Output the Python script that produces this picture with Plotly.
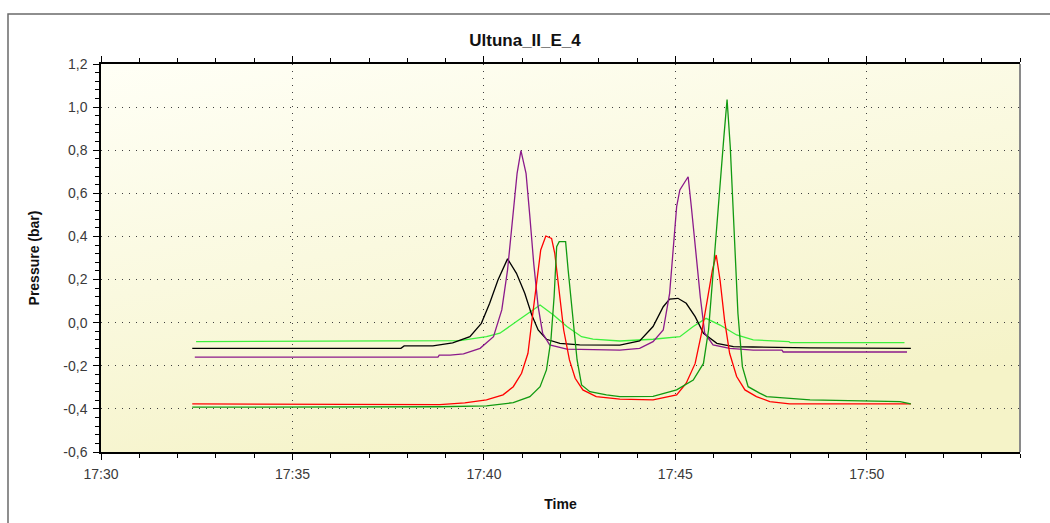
import base64
import plotly.graph_objects as go

DAY = "2014-05-20"

# ---- data (time, pressure in bar) ----
black_t = ["17:32:23", "17:37:50", "17:37:55", "17:38:40", "17:39:11", "17:39:38", "17:39:56",
           "17:40:09", "17:40:22", "17:40:37", "17:40:51", "17:41:04", "17:41:15", "17:41:25",
           "17:41:38", "17:41:59", "17:42:30", "17:43:33", "17:44:04", "17:44:25", "17:44:41",
           "17:44:51", "17:45:04", "17:45:17", "17:45:31", "17:45:44", "17:46:05", "17:46:31",
           "17:47:01", "17:48:30", "17:51:09"]
black_v = [-0.119, -0.119, -0.108, -0.108, -0.094, -0.065, -0.003,
           0.090, 0.198, 0.296, 0.229, 0.136, 0.036, -0.034,
           -0.077, -0.096, -0.103, -0.104, -0.085, -0.018, 0.074,
           0.109, 0.113, 0.090, 0.028, -0.049, -0.096, -0.111,
           -0.113, -0.117, -0.119]

purple_t = ["17:32:27", "17:38:48", "17:38:50", "17:39:07", "17:39:28", "17:39:54", "17:40:15",
            "17:40:28", "17:40:37", "17:40:45", "17:40:52", "17:40:58", "17:41:06", "17:41:12",
            "17:41:18", "17:41:25", "17:41:32", "17:41:43", "17:42:10", "17:43:33", "17:44:04",
            "17:44:25", "17:44:41", "17:44:51", "17:44:57", "17:45:02", "17:45:07", "17:45:15",
            "17:45:20", "17:45:25", "17:45:32", "17:45:39", "17:45:46", "17:45:59", "17:46:25",
            "17:47:02", "17:47:47", "17:47:49", "17:51:03"]
purple_v = [-0.160, -0.160, -0.151, -0.151, -0.145, -0.119, -0.065,
            0.059, 0.244, 0.476, 0.693, 0.798, 0.693, 0.492,
            0.276, 0.074, -0.049, -0.103, -0.123, -0.127, -0.119,
            -0.088, -0.034, 0.136, 0.353, 0.538, 0.616, 0.654,
            0.677, 0.538, 0.322, 0.121, -0.049, -0.103, -0.119,
            -0.127, -0.127, -0.136, -0.136]

lime_t = ["17:32:29", "17:39:22", "17:40:04", "17:40:25", "17:40:51", "17:41:12", "17:41:28",
          "17:41:49", "17:42:10", "17:42:33", "17:42:51", "17:43:33", "17:44:25", "17:45:07",
          "17:45:28", "17:45:48", "17:46:10", "17:46:36", "17:47:02", "17:47:58", "17:48:00",
          "17:50:59"]
lime_v = [-0.088, -0.083, -0.065, -0.049, 0.005, 0.051, 0.082,
          0.036, -0.018, -0.065, -0.076, -0.085, -0.077, -0.065,
          -0.018, 0.020, -0.011, -0.057, -0.080, -0.088, -0.093,
          -0.093]

red_t = ["17:32:23", "17:38:51", "17:39:30", "17:40:04", "17:40:30", "17:40:46", "17:40:59",
         "17:41:09", "17:41:16", "17:41:23", "17:41:29", "17:41:37", "17:41:46", "17:41:51",
         "17:41:58", "17:42:05", "17:42:14", "17:42:23", "17:42:35", "17:42:56", "17:43:33",
         "17:44:25", "17:45:02", "17:45:17", "17:45:31", "17:45:41", "17:45:50", "17:45:58",
         "17:46:04", "17:46:10", "17:46:17", "17:46:25", "17:46:36", "17:46:49", "17:47:07",
         "17:47:28", "17:47:59", "17:51:09"]
red_v = [-0.377, -0.380, -0.372, -0.358, -0.335, -0.297, -0.235,
         -0.142, 0.028, 0.198, 0.337, 0.402, 0.391, 0.322,
         0.152, -0.034, -0.173, -0.258, -0.312, -0.343, -0.355,
         -0.358, -0.335, -0.281, -0.189, -0.049, 0.105, 0.244,
         0.314, 0.198, 0.013, -0.142, -0.250, -0.312, -0.343,
         -0.366, -0.377, -0.377]

green_t = ["17:32:23", "17:38:51", "17:40:04", "17:40:46", "17:41:12", "17:41:28", "17:41:38",
           "17:41:45", "17:41:50", "17:41:54", "17:41:58", "17:42:08", "17:42:12", "17:42:19",
           "17:42:26", "17:42:33", "17:42:46", "17:43:12", "17:43:33", "17:44:25", "17:45:02",
           "17:45:28", "17:45:44", "17:45:52", "17:45:58", "17:46:05", "17:46:11", "17:46:16",
           "17:46:21", "17:46:26", "17:46:32", "17:46:38", "17:46:45", "17:46:54", "17:47:12",
           "17:47:23", "17:48:31", "17:50:52", "17:51:09"]
green_v = [-0.392, -0.390, -0.386, -0.371, -0.343, -0.297, -0.219,
           -0.080, 0.121, 0.353, 0.376, 0.376, 0.244, 0.028,
           -0.173, -0.289, -0.320, -0.335, -0.343, -0.342, -0.312,
           -0.266, -0.189, -0.034, 0.198, 0.444, 0.676, 0.862,
           1.035, 0.816, 0.430, 0.044, -0.204, -0.297, -0.327,
           -0.343, -0.358, -0.366, -0.377]

y_tick_vals = [-0.6, -0.4, -0.2, 0.0, 0.2, 0.4, 0.6, 0.8, 1.0, 1.2]
y_tick_text = ["-0,6", "-0,4", "-0,2", "0,0", "0,2", "0,4", "0,6", "0,8", "1,0", "1,2"]
x_start, x_end = "17:30:00", "17:54:00"

series = [
    ("lime", lime_t, lime_v, "#3CF03C"),
    ("black", black_t, black_v, "#000000"),
    ("purple", purple_t, purple_v, "#8B1A8B"),
    ("red", red_t, red_v, "#FF0000"),
    ("green", green_t, green_v, "#119A11"),
]

FONT = "Liberation Sans, Arial, sans-serif"

fig = go.Figure()
for name, ts, vs, col in series:
    fig.add_trace(go.Scatter(
        x=[f"{DAY} {t}" for t in ts], y=vs, mode="lines", name=name,
        line=dict(color=col, width=1.3), showlegend=False, hoverinfo="skip",
    ))

# background gradient for the plot area
svg = ('<svg xmlns="http://www.w3.org/2000/svg" width="100" height="100" preserveAspectRatio="none">'
       '<defs><linearGradient id="g" x1="0" y1="0" x2="0.45" y2="1">'
       '<stop offset="0" stop-color="#FFFFF6"/><stop offset="1" stop-color="#F5F3C8"/>'
       '</linearGradient></defs><rect width="100" height="100" fill="url(#g)"/></svg>')
src = "data:image/svg+xml;base64," + base64.b64encode(svg.encode()).decode()

fig.update_layout(
    width=1050, height=523,
    margin=dict(l=101, r=30, t=64, b=71),
    paper_bgcolor="white", plot_bgcolor="rgba(0,0,0,0)",
    font=dict(family=FONT, size=14, color="#3a3a3a"),
    title=dict(text="<b>Ultuna_II_E_4</b>", x=0.5, xanchor="center", y=1 - 40 / 523,
               yanchor="middle", font=dict(family=FONT, size=17, color="#111111")),
    images=[dict(source=src, xref="paper", yref="paper", x=0, y=1, sizex=1, sizey=1,
                 sizing="stretch", layer="below", xanchor="left", yanchor="top")],
    shapes=[
        dict(type="rect", xref="paper", yref="paper", x0=-0.1012, x1=1.2, y0=-0.4, y1=1.1289,
             line=dict(color="#6a6a6a", width=1.5)),
        dict(type="line", xref="paper", yref="paper", x0=1, x1=1, y0=0, y1=1,
             line=dict(color="#8a8a8a", width=2)),
    ],
)

fig.update_xaxes(
    type="date", range=[f"{DAY} {x_start}", f"{DAY} {x_end}"],
    dtick=300000, tick0=f"{DAY} 17:30:00", tickformat="%H:%M",
    ticks="outside", ticklen=6, tickcolor="#000", tickwidth=1, ticklabelstandoff=2,
    minor=dict(dtick=60000, ticks="outside", ticklen=4, tickcolor="#000", showgrid=False),
    showline=True, linecolor="#000", linewidth=1.5, mirror="ticks",
    showgrid=True, gridcolor="#404040", gridwidth=1, griddash="1px,6px",
    zeroline=False,
    title=dict(text="<b>Time</b>", font=dict(family=FONT, size=14, color="#111111"), standoff=19),
    tickfont=dict(family=FONT, size=14, color="#3a3a3a"),
)
fig.update_yaxes(
    range=[-0.6, 1.2], tickvals=y_tick_vals, ticktext=y_tick_text,
    ticks="outside", ticklen=6, tickcolor="#000", tickwidth=1, ticklabelstandoff=3,
    minor=dict(dtick=0.04, tick0=-0.6, ticks="outside", ticklen=4, tickcolor="#000", showgrid=False),
    showline=True, linecolor="#000", linewidth=1.5, mirror=False,
    showgrid=True, gridcolor="#404040", gridwidth=1, griddash="1px,6px",
    zeroline=False,
    title=dict(text="<b>Pressure (bar)</b>", font=dict(family=FONT, size=14, color="#111111"), standoff=20),
    tickfont=dict(family=FONT, size=14, color="#3a3a3a"),
)

fig.write_html("out.html", config={"displayModeBar": False},
               post_script="document.body.style.margin='0';document.body.style.padding='0';")
